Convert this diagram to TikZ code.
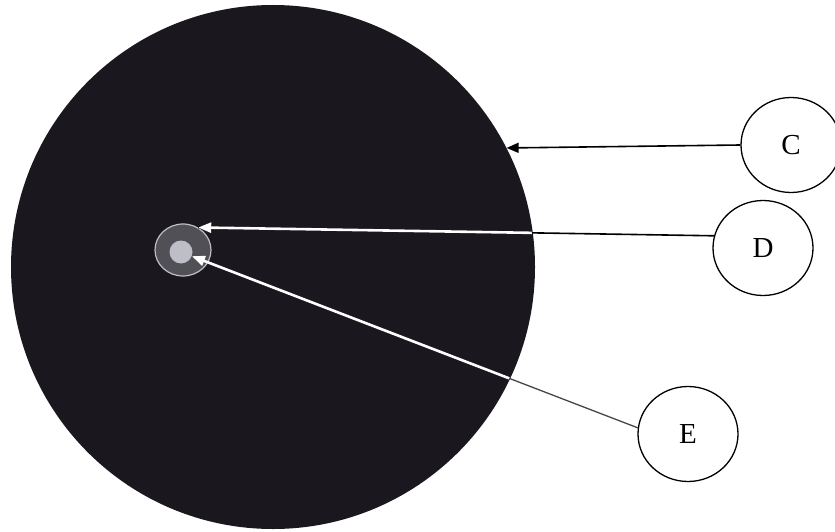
\documentclass[tikz,border=0pt]{standalone}
\usepackage{fontspec}
\setmainfont{Liberation Serif}
\usetikzlibrary{shapes.geometric,arrows.meta}
\definecolor{disc}{RGB}{26,24,30}
\definecolor{ringfill}{RGB}{80,80,86}
\definecolor{ringedge}{RGB}{190,190,196}
\definecolor{corefill}{RGB}{190,190,200}
\definecolor{eline}{RGB}{70,70,70}
\tikzset{
  labelnode/.style={draw=black, line width=1.3pt, ellipse, fill=white, inner sep=0pt,
    minimum width=100pt, minimum height=95pt, font=\fontsize{29}{34}\selectfont},
  blackline/.style={draw=black, line width=1.6pt},
  greyline/.style={draw=eline, line width=1.3pt},
  whiteline/.style={draw=white, line width=2.6pt, -{Triangle[length=13pt,width=10pt]}},
}
\begin{document}
\begin{tikzpicture}[x=1pt,y=-1pt]
\useasboundingbox (0,0) rectangle (835,532);
\node[circle, fill=disc, minimum size=524pt, inner sep=0pt] (big) at (273,267) {};
\node[ellipse, fill=ringfill, draw=ringedge, line width=1.2pt, minimum width=56pt, minimum height=52pt, inner sep=0pt] (ring) at (183,250) {};
\node[circle, fill=corefill, minimum size=23pt, inner sep=0pt] (core) at (181,252) {};
\node[labelnode] (C) at (791,145) {C};
\node[labelnode] (D) at (763,248) {D};
\node[labelnode] (E) at (688,434) {E};
% C connector
\draw[blackline, -{Triangle[length=12pt,width=10pt]}] (C.west) -- (big.27.7);
% D and E connectors: dark outside, white inside the disc
\draw[blackline] (D.166) -- (ring.56);
\draw[greyline] (E.173) -- (core.-21);
\begin{scope}
  \clip (big.center) circle (261);
  \draw[whiteline] (D.166) -- (ring.56);
  \draw[whiteline] (E.173) -- (core.-21);
\end{scope}
\end{tikzpicture}
\end{document}
